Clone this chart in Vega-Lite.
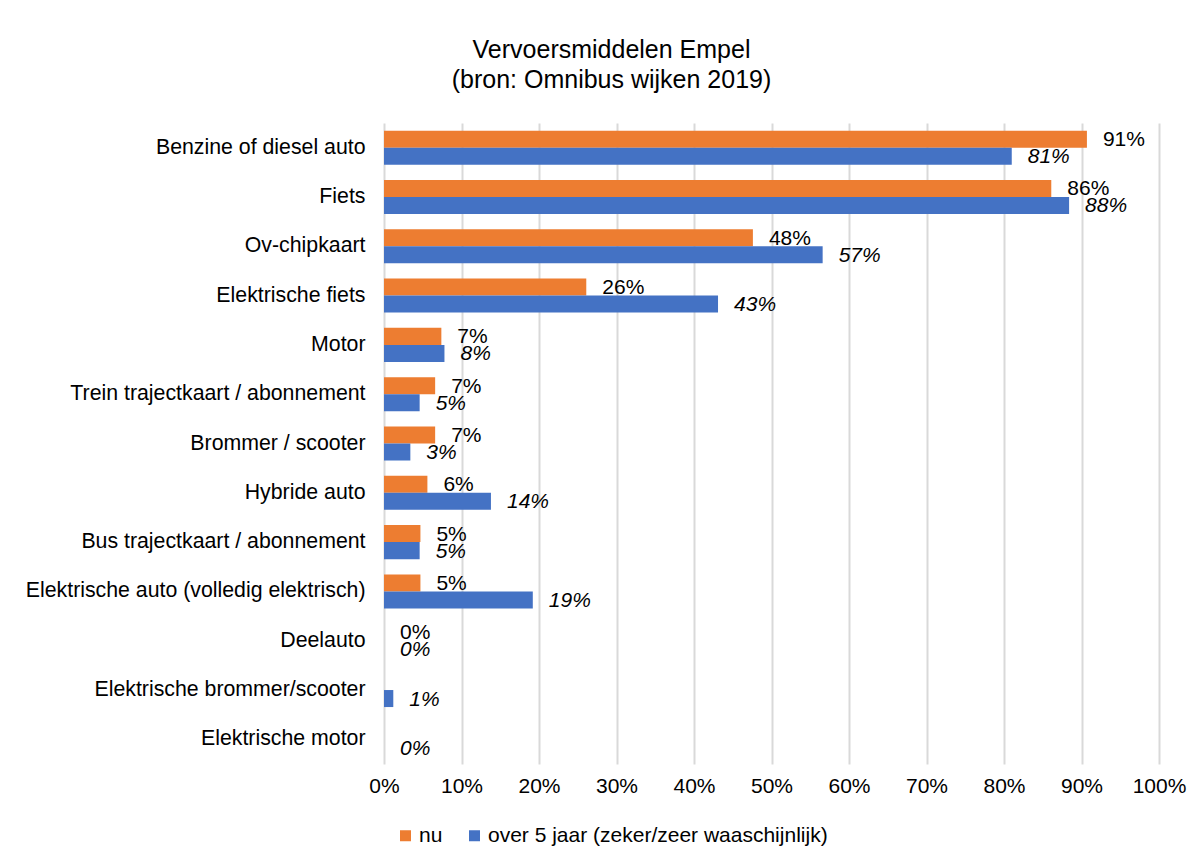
{
  "$schema": "https://vega.github.io/schema/vega-lite/v6.json",
  "width": 775,
  "height": 641,
  "padding": {"left": 10, "top": 38, "right": 20, "bottom": 10},
  "background": "white",
  "title": {
    "text": ["Vervoersmiddelen Empel", "(bron: Omnibus wijken 2019)"],
    "fontSize": 25,
    "lineHeight": 30,
    "font": "Liberation Sans",
    "fontWeight": "normal",
    "color": "#000000",
    "anchor": "middle",
    "frame": "group",
    "dx": -160,
    "offset": 30
  },
  "data": {
    "values": [
      {"vervoer": "Benzine of diesel auto", "reeks": "nu", "aandeel": 0.907},
      {"vervoer": "Benzine of diesel auto", "reeks": "over 5 jaar (zeker/zeer waaschijnlijk)", "aandeel": 0.810},
      {"vervoer": "Fiets", "reeks": "nu", "aandeel": 0.861},
      {"vervoer": "Fiets", "reeks": "over 5 jaar (zeker/zeer waaschijnlijk)", "aandeel": 0.884},
      {"vervoer": "Ov-chipkaart", "reeks": "nu", "aandeel": 0.476},
      {"vervoer": "Ov-chipkaart", "reeks": "over 5 jaar (zeker/zeer waaschijnlijk)", "aandeel": 0.566},
      {"vervoer": "Elektrische fiets", "reeks": "nu", "aandeel": 0.261},
      {"vervoer": "Elektrische fiets", "reeks": "over 5 jaar (zeker/zeer waaschijnlijk)", "aandeel": 0.431},
      {"vervoer": "Motor", "reeks": "nu", "aandeel": 0.074},
      {"vervoer": "Motor", "reeks": "over 5 jaar (zeker/zeer waaschijnlijk)", "aandeel": 0.078},
      {"vervoer": "Trein trajectkaart / abonnement", "reeks": "nu", "aandeel": 0.066},
      {"vervoer": "Trein trajectkaart / abonnement", "reeks": "over 5 jaar (zeker/zeer waaschijnlijk)", "aandeel": 0.046},
      {"vervoer": "Brommer / scooter", "reeks": "nu", "aandeel": 0.066},
      {"vervoer": "Brommer / scooter", "reeks": "over 5 jaar (zeker/zeer waaschijnlijk)", "aandeel": 0.034},
      {"vervoer": "Hybride auto", "reeks": "nu", "aandeel": 0.056},
      {"vervoer": "Hybride auto", "reeks": "over 5 jaar (zeker/zeer waaschijnlijk)", "aandeel": 0.138},
      {"vervoer": "Bus trajectkaart / abonnement", "reeks": "nu", "aandeel": 0.047},
      {"vervoer": "Bus trajectkaart / abonnement", "reeks": "over 5 jaar (zeker/zeer waaschijnlijk)", "aandeel": 0.046},
      {"vervoer": "Elektrische auto (volledig elektrisch)", "reeks": "nu", "aandeel": 0.047},
      {"vervoer": "Elektrische auto (volledig elektrisch)", "reeks": "over 5 jaar (zeker/zeer waaschijnlijk)", "aandeel": 0.192},
      {"vervoer": "Deelauto", "reeks": "nu", "aandeel": 0},
      {"vervoer": "Deelauto", "reeks": "over 5 jaar (zeker/zeer waaschijnlijk)", "aandeel": 0},
      {"vervoer": "Elektrische brommer/scooter", "reeks": "over 5 jaar (zeker/zeer waaschijnlijk)", "aandeel": 0.012},
      {"vervoer": "Elektrische motor", "reeks": "over 5 jaar (zeker/zeer waaschijnlijk)", "aandeel": 0}
    ]
  },
  "encoding": {
    "y": {
      "field": "vervoer",
      "type": "nominal",
      "sort": null,
      "scale": {"paddingInner": 0.31, "paddingOuter": 0.155},
      "axis": {
        "title": null,
        "domain": false,
        "ticks": false,
        "grid": false,
        "labelFontSize": 21.3,
        "labelFont": "Liberation Sans",
        "labelColor": "#000000",
        "labelPadding": 19,
        "labelLimit": 400,
        "minExtent": 374,
        "maxExtent": 374
      }
    },
    "yOffset": {
      "field": "reeks",
      "type": "nominal",
      "sort": ["nu", "over 5 jaar (zeker/zeer waaschijnlijk)"],
      "scale": {"domain": ["nu", "over 5 jaar (zeker/zeer waaschijnlijk)"], "paddingInner": 0, "paddingOuter": 0}
    },
    "x": {
      "field": "aandeel",
      "type": "quantitative",
      "scale": {"domain": [0, 1], "nice": false, "zero": true},
      "axis": {
        "title": null,
        "format": ".0%",
        "values": [0, 0.1, 0.2, 0.3, 0.4, 0.5, 0.6, 0.7, 0.8, 0.9, 1],
        "domain": false,
        "ticks": false,
        "grid": true,
        "gridColor": "#d9d9d9",
        "gridWidth": 2,
        "labelFontSize": 21,
        "labelFont": "Liberation Sans",
        "labelColor": "#000000",
        "labelPadding": 11,
        "labelFlush": false
      }
    }
  },
  "layer": [
    {
      "mark": {"type": "bar"},
      "encoding": {
        "color": {
          "field": "reeks",
          "type": "nominal",
          "scale": {
            "domain": ["nu", "over 5 jaar (zeker/zeer waaschijnlijk)"],
            "range": ["#ED7D31", "#4472C4"]
          },
          "legend": {
            "title": null,
            "orient": "none",
            "direction": "horizontal",
            "legendX": 11,
            "legendY": 702,
            "symbolType": "square",
            "symbolSize": 121,
            "symbolStrokeWidth": 0,
            "labelFontSize": 21,
            "labelFont": "Liberation Sans",
            "labelColor": "#000000",
            "labelOffset": 3,
            "columnPadding": 21,
            "labelLimit": 500
          }
        }
      }
    },
    {
      "transform": [{"filter": "datum.reeks === 'nu'"}],
      "mark": {"type": "text", "align": "left", "baseline": "middle", "dx": 16, "dy": 1, "fontSize": 21, "font": "Liberation Sans", "color": "#000000"},
      "encoding": {"text": {"field": "aandeel", "type": "quantitative", "format": ".0%"}}
    },
    {
      "transform": [{"filter": "datum.reeks !== 'nu'"}],
      "mark": {"type": "text", "align": "left", "baseline": "middle", "dx": 16, "dy": 1, "fontSize": 21, "font": "Liberation Sans", "fontStyle": "italic", "color": "#000000"},
      "encoding": {"text": {"field": "aandeel", "type": "quantitative", "format": ".0%"}}
    }
  ],
  "config": {
    "view": {"stroke": null},
    "font": "Liberation Sans"
  }
}
